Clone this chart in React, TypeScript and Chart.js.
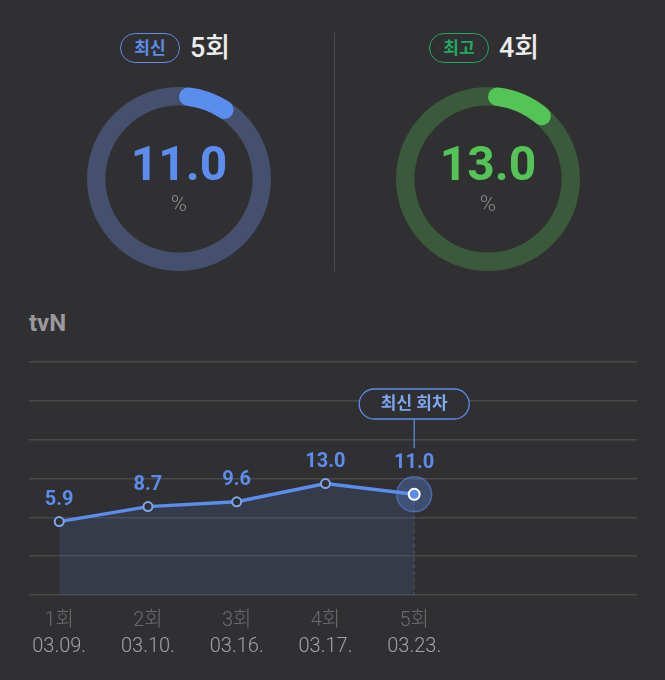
import React, { useEffect, useRef } from "react";
import { Chart, registerables } from "chart.js";

Chart.register(...registerables);

// ---- data ----
const episodes = ["1회", "2회", "3회", "4회", "5회"];
const dates = ["03.09.", "03.10.", "03.16.", "03.17.", "03.23."];
const ratings = [5.9, 8.7, 9.6, 13.0, 11.0];
const channel = "tvN";
const latestTag = "최신";
const latestEpisode = "5회";
const latestValue = 11.0;
const bestTag = "최고";
const bestEpisode = "4회";
const bestValue = 13.0;
const gaugeMax = 100;
const latestMarker = "최신 회차";

const FONT = "Roboto, 'Noto Sans CJK KR', sans-serif";
const BG = "#303032";
const BLUE = "#5b8def";
const GREEN = "#55c456";

function Gauge(props: {
  value: number;
  color: string;
  track: string;
  left: number;
  top: number;
  size: number;
}) {
  const { value, color, track, left, top, size } = props;
  const ref = useRef<HTMLCanvasElement>(null);
  useEffect(() => {
    const trackPlugin = {
      id: "track",
      beforeDatasetsDraw(chart: any) {
        const arc = chart.getDatasetMeta(0).data[0];
        if (!arc) return;
        const { x, y, innerRadius, outerRadius } = arc.getProps(
          ["x", "y", "innerRadius", "outerRadius"],
          true
        );
        const ctx = chart.ctx;
        ctx.save();
        ctx.beginPath();
        ctx.arc(x, y, outerRadius, 0, Math.PI * 2);
        ctx.arc(x, y, innerRadius, 0, Math.PI * 2, true);
        ctx.fillStyle = track;
        ctx.fill();
        ctx.restore();
      },
    };
    const centerPlugin = {
      id: "center",
      afterDraw(chart: any) {
        const arc = chart.getDatasetMeta(0).data[0];
        const { x, y } = arc.getProps(["x", "y"], true);
        const ctx = chart.ctx;
        ctx.save();
        ctx.textAlign = "center";
        ctx.textBaseline = "alphabetic";
        ctx.fillStyle = color;
        ctx.font = `bold 48px ${FONT}`;
        ctx.fillText(value.toFixed(1), x, y + 1);
        ctx.fillStyle = "#8a8a8c";
        ctx.font = `300 22px ${FONT}`;
        ctx.textBaseline = "middle";
        ctx.fillText("%", x, y + 26);
        ctx.restore();
      },
    };
    const chart = new Chart(ref.current as HTMLCanvasElement, {
      type: "doughnut",
      data: {
        datasets: [
          {
            data: [value, gaugeMax - value],
            backgroundColor: [color, "rgba(0,0,0,0)"],
            borderWidth: 0,
            borderRadius: (c: any) => (c.dataIndex === 0 ? 20 : 0),
          } as any,
        ],
      },
      options: {
        responsive: false,
        animation: false,
        cutout: "80%",
        events: [],
        layout: { padding: 0 },
        plugins: { legend: { display: false }, tooltip: { enabled: false } },
      },
      plugins: [trackPlugin, centerPlugin],
    });
    return () => chart.destroy();
  }, []);
  return (
    <canvas
      ref={ref}
      width={size}
      height={size}
      style={{ position: "absolute", left, top, width: size, height: size }}
    />
  );
}

function Header(props: {
  tag: string;
  episode: string;
  color: string;
  left: number;
}) {
  const { tag, episode, color, left } = props;
  return (
    <>
      <div
        style={{
          position: "absolute",
          left,
          top: 33,
          width: 58,
          height: 28,
          border: `1.5px solid ${color}`,
          borderRadius: 16,
          color,
          fontFamily: FONT,
          fontWeight: 700,
          fontSize: 17,
          lineHeight: "28px",
          textAlign: "center",
        }}
      >
        {tag}
      </div>
      <div
        style={{
          position: "absolute",
          left: left + 70,
          top: 33,
          height: 31,
          color: "#ececec",
          fontFamily: FONT,
          fontWeight: 500,
          fontSize: 27,
          lineHeight: "31px",
        }}
      >
        {episode}
      </div>
    </>
  );
}

function LineChart() {
  const ref = useRef<HTMLCanvasElement>(null);
  useEffect(() => {
    const last = ratings.length - 1;
    const behind = {
      id: "behind",
      beforeDatasetsDraw(chart: any) {
        const ctx = chart.ctx;
        const pt = chart.getDatasetMeta(0).data[last];
        const bottom = chart.chartArea.bottom;
        ctx.save();
        ctx.setLineDash([4, 3]);
        ctx.strokeStyle = "rgba(130,140,160,0.45)";
        ctx.lineWidth = 1;
        ctx.beginPath();
        ctx.moveTo(pt.x, pt.y);
        ctx.lineTo(pt.x, bottom);
        ctx.stroke();
        ctx.setLineDash([]);
        ctx.beginPath();
        ctx.arc(pt.x, pt.y, 17.5, 0, Math.PI * 2);
        ctx.fillStyle = "rgba(91,141,239,0.32)";
        ctx.fill();
        ctx.strokeStyle = "rgba(91,141,239,0.55)";
        ctx.lineWidth = 1.5;
        ctx.stroke();
        ctx.restore();
      },
    };
    const front = {
      id: "front",
      afterDatasetsDraw(chart: any) {
        const ctx = chart.ctx;
        const meta = chart.getDatasetMeta(0);
        ctx.save();
        ctx.textAlign = "center";
        ctx.textBaseline = "middle";
        ctx.fillStyle = BLUE;
        ctx.font = `bold 20px ${FONT}`;
        meta.data.forEach((p: any, i: number) => {
          const off = i === last ? 31 : 22;
          ctx.fillText(ratings[i].toFixed(1), p.x, p.y - off);
        });
        // latest marker pill
        const p = meta.data[last];
        const pillW = 110;
        const pillH = 30;
        const cy = chart.chartArea.top + 42;
        const x0 = p.x - pillW / 2;
        const y0 = cy - pillH / 2;
        ctx.beginPath();
        ctx.moveTo(p.x, y0 + pillH);
        ctx.lineTo(p.x, p.y - 46);
        ctx.strokeStyle = BLUE;
        ctx.lineWidth = 1.2;
        ctx.stroke();
        ctx.beginPath();
        ctx.roundRect(x0, y0, pillW, pillH, pillH / 2);
        ctx.fillStyle = BG;
        ctx.fill();
        ctx.lineWidth = 1.3;
        ctx.strokeStyle = BLUE;
        ctx.stroke();
        ctx.fillStyle = "#7ea6f2";
        ctx.font = `bold 17px ${FONT}`;
        ctx.fillText(latestMarker, p.x, cy + 1);
        ctx.restore();
      },
      afterDraw(chart: any) {
        const ctx = chart.ctx;
        const xs = chart.scales.x;
        const bottom = chart.chartArea.bottom;
        ctx.save();
        ctx.textAlign = "center";
        ctx.textBaseline = "middle";
        episodes.forEach((ep, i) => {
          const x = xs.getPixelForValue(i);
          ctx.font = `300 20px ${FONT}`;
          ctx.fillStyle = "#6c6c6f";
          ctx.fillText(ep, x, bottom + 26);
          ctx.fillStyle = "#a2a2a5";
          ctx.fillText(dates[i], x, bottom + 52);
        });
        ctx.restore();
      },
    };
    const chart = new Chart(ref.current as HTMLCanvasElement, {
      type: "line",
      data: {
        datasets: [
          {
            data: ratings.map((v, i) => ({ x: i, y: v })),
            borderColor: BLUE,
            borderWidth: 3.5,
            tension: 0,
            fill: "start",
            backgroundColor: "rgba(80,110,170,0.18)",
            pointRadius: (c: any) => (c.dataIndex === last ? 5.5 : 4.5),
            pointBorderWidth: 2,
            pointBackgroundColor: (c: any) =>
              c.dataIndex === last ? BLUE : BG,
            pointBorderColor: (c: any) =>
              c.dataIndex === last ? "#ffffff" : "#7fa5f0",
            clip: false,
          } as any,
        ],
      },
      options: {
        responsive: false,
        animation: false,
        events: [],
        layout: { padding: { left: 29, right: 28, top: 22, bottom: 85 } },
        plugins: { legend: { display: false }, tooltip: { enabled: false } },
        scales: {
          x: {
            type: "linear",
            display: false,
            min: -0.34,
            max: 6.51,
          },
          y: {
            display: true,
            min: -7.8,
            max: 35.7,
            ticks: { display: false, count: 7 },
            border: { display: false },
            grid: {
              color: "rgba(255,255,255,0.12)",
              lineWidth: 1.5,
              drawTicks: false,
            },
          },
        },
      },
      plugins: [behind, front],
    });
    return () => chart.destroy();
  }, []);
  return (
    <canvas
      ref={ref}
      width={665}
      height={340}
      style={{ position: "absolute", left: 0, top: 340, width: 665, height: 340 }}
    />
  );
}

export default function App() {
  return (
    <div
      style={{
        position: "fixed",
        left: 0,
        top: 0,
        width: 665,
        height: 680,
        background: BG,
        overflow: "hidden",
      }}
    >
      <Header tag={latestTag} episode={latestEpisode} color={BLUE} left={120} />
      <Header tag={bestTag} episode={bestEpisode} color="#22a862" left={429} />
      <div
        style={{
          position: "absolute",
          left: 334,
          top: 33,
          width: 1,
          height: 238,
          background: "#4a4a4d",
        }}
      />
      <Gauge value={latestValue} color={BLUE} track="#44506d" left={87} top={87} size={184} />
      <Gauge value={bestValue} color={GREEN} track="#3b5a3c" left={396} top={87} size={184} />
      <div
        style={{
          position: "absolute",
          left: 29,
          top: 308,
          color: "#9a9a9c",
          fontFamily: FONT,
          fontWeight: 700,
          fontSize: 24,
          lineHeight: "30px",
        }}
      >
        {channel}
      </div>
      <LineChart />
    </div>
  );
}
